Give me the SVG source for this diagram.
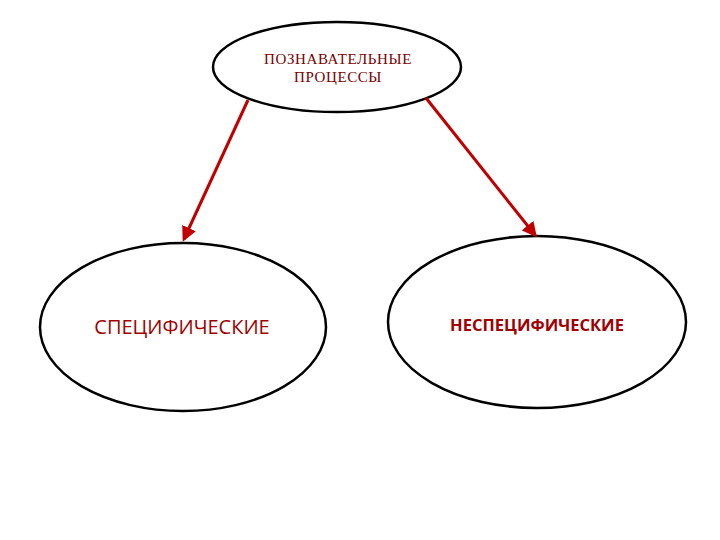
<svg xmlns="http://www.w3.org/2000/svg" width="720" height="540" viewBox="0 0 720 540">
<style>
.node ellipse{fill:#fff;stroke:#000;stroke-width:2.5}
.conn line{stroke:#c00000;stroke-width:3}
.serif{font-family:"Liberation Serif","DejaVu Serif",serif;font-size:15px;letter-spacing:0.6px;fill:#7a0000;text-anchor:middle}
.sans{font-family:"Open Sans","Liberation Sans",sans-serif;fill:#a00000;text-anchor:middle}
</style>
<defs>
<marker id="ah" viewBox="0 0 10 10" refX="8" refY="5" markerWidth="5" markerHeight="5" orient="auto" markerUnits="strokeWidth">
<path d="M0,0 L10,5 L0,10 z" fill="#c00000"/>
</marker>
</defs>
<rect width="720" height="540" fill="#fff"/>
<g id="n-top" class="node">
<ellipse cx="337" cy="67" rx="124" ry="45"/>
<text class="serif" x="338" y="64">ПОЗНАВАТЕЛЬНЫЕ</text>
<text class="serif" x="338" y="82">ПРОЦЕССЫ</text>
</g>
<g id="n-left" class="node">
<ellipse cx="183" cy="327" rx="143" ry="84"/>
<text class="sans" x="182" y="334" font-size="20">СПЕЦИФИЧЕСКИЕ</text>
</g>
<g id="n-right" class="node">
<ellipse cx="537" cy="322" rx="149" ry="86"/>
<text class="sans" x="537" y="331" font-size="16.5" font-weight="bold">НЕСПЕЦИФИЧЕСКИЕ</text>
</g>
<g id="connectors" class="conn">
<line x1="248" y1="100" x2="184" y2="239" marker-end="url(#ah)"/>
<line x1="426" y1="98" x2="535" y2="235" marker-end="url(#ah)"/>
</g>
</svg>
